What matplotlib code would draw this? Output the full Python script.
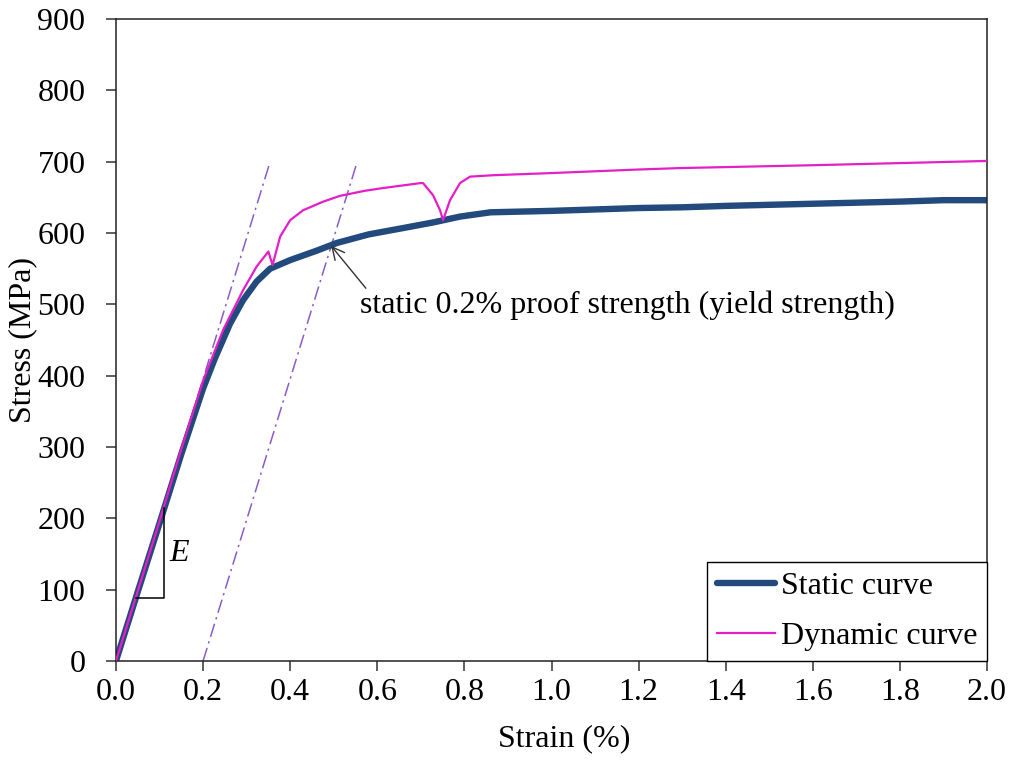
import matplotlib
matplotlib.use("Agg")
import matplotlib.pyplot as plt

plt.rcParams['font.family'] = ['Liberation Serif', 'DejaVu Serif']
plt.rcParams['mathtext.fontset'] = 'custom'
plt.rcParams['mathtext.it'] = 'Liberation Serif:italic'

# Static tensile test (strain in %, stress in MPa)
static_strain = [0, 0.05, 0.10, 0.15, 0.20, 0.227, 0.262, 0.292, 0.323, 0.354,
                 0.40, 0.46, 0.507, 0.58, 0.66, 0.73, 0.79, 0.86, 1.0, 1.2,
                 1.3, 1.4, 1.6, 1.8, 1.9, 2.0]
static_stress = [0, 97, 193, 290, 382, 424, 473, 506, 532, 550,
                 562, 575, 586, 598, 607, 615, 623, 629, 631, 635,
                 636, 638, 641, 644, 646, 646]

# Dynamic test
dynamic_strain = [0, 0.05, 0.10, 0.15, 0.20, 0.22, 0.246, 0.269, 0.292, 0.323,
                  0.350, 0.3595, 0.377, 0.40, 0.43, 0.476, 0.514, 0.57, 0.613,
                  0.70, 0.705, 0.728, 0.744, 0.751, 0.767, 0.79, 0.813, 0.866,
                  1.0, 1.2, 1.295, 1.6, 1.8, 2.0]
dynamic_stress = [0, 98, 196, 297, 393, 424, 464, 492, 520, 553,
                  574, 555, 595, 618, 632, 644, 652, 659, 663,
                  670, 670, 653, 632, 618, 646, 670, 679, 681,
                  684, 689, 691, 695, 698, 701]

# Elastic line and 0.2 % offset line
elastic_x = [0, 0.354]
elastic_y = [0, 700]
offset_x = [0.2, 0.554]
offset_y = [0, 700]

fig = plt.figure(figsize=(10.11, 7.60), dpi=100)
ax = fig.add_axes([0.1147, 0.1303, 0.8616, 0.8447])

dashdot = (0, (9, 3, 1.5, 3))
ax.plot(elastic_x, elastic_y, color='#8a5cc8', lw=1.1, linestyle=dashdot, zorder=1)
ax.plot(offset_x, offset_y, color='#8a5cc8', lw=1.1, linestyle=dashdot, zorder=1)

ax.plot(static_strain, static_stress, color='#234a7c', lw=4.6,
        solid_capstyle='round', solid_joinstyle='round',
        label='Static curve', zorder=2)
ax.plot(dynamic_strain, dynamic_stress, color='#e61ec8', lw=1.6,
        solid_joinstyle='round', label='Dynamic curve', zorder=3)

# Slope triangle for E
ax.plot([0.046, 0.110, 0.110], [88, 88, 214], color='black', lw=1.1, zorder=4)
ax.text(0.147, 151, '$E$', fontsize=23, ha='center', va='center')

ax.annotate('static 0.2% proof strength (yield strength)',
            xy=(0.494, 582), xytext=(0.56, 498), fontsize=23,
            ha='left', va='center',
            arrowprops=dict(arrowstyle='->', color='#333333', lw=1.0,
                            shrinkA=0, shrinkB=0, mutation_scale=22,
                            relpos=(0.02, 0.9)))

ax.set_xlim(0, 2.0)
ax.set_ylim(0, 900)
ax.set_xticks([i * 0.2 for i in range(11)])
ax.set_xticklabels(['%.1f' % (i * 0.2) for i in range(11)])
ax.set_yticks(range(0, 901, 100))
ax.tick_params(axis='both', direction='out', length=7, width=1.1,
               labelsize=23, color='#333333')
ax.tick_params(axis='x', pad=5)
ax.tick_params(axis='y', pad=15)
for side in ax.spines.values():
    side.set_linewidth(1.1)
    side.set_color('#222222')

ax.set_xlabel('Strain (%)', fontsize=23)
ax.set_ylabel('Stress (MPa)', fontsize=23)
ax.xaxis.set_label_coords(0.515, -0.098)
ax.yaxis.set_label_coords(-0.09, 0.5)

leg = ax.legend(loc='lower right', fontsize=23, frameon=True, fancybox=False,
                edgecolor='black', framealpha=1, borderaxespad=0,
                handlelength=1.8, handletextpad=0.2, labelspacing=0.65,
                borderpad=0.3)
leg.get_frame().set_linewidth(1.0)

fig.savefig('out.png', dpi=100)
